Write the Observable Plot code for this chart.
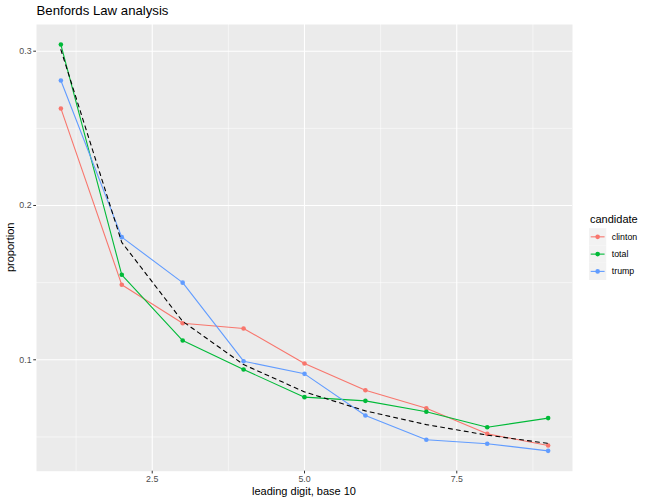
<!DOCTYPE html>
<html>
<head>
<meta charset="utf-8">
<script src="https://cdn.jsdelivr.net/npm/d3@7"></script>
<script src="https://cdn.jsdelivr.net/npm/@observablehq/plot@0.6"></script>
<style>
  html, body { margin: 0; padding: 0; background: white; }
  #chart { width: 648px; height: 504px; }
</style>
</head>
<body>
<div id="chart"></div>
<script>
const digits = [1, 2, 3, 4, 5, 6, 7, 8, 9];
const candidates = ["clinton", "total", "trump"];
const candidateColors = ["#F8766D", "#00BA38", "#619CFF"];
const clinton = [0.2629, 0.1486, 0.1237, 0.1203, 0.0976, 0.0803, 0.0686, 0.0520, 0.0445];
const total   = [0.3043, 0.1551, 0.1125, 0.0937, 0.0758, 0.0734, 0.0663, 0.0563, 0.0622];
const trump   = [0.2810, 0.1795, 0.1500, 0.0991, 0.0909, 0.0639, 0.0482, 0.0456, 0.0410];
const benford = [0.3010, 0.1761, 0.1249, 0.0969, 0.0792, 0.0669, 0.0580, 0.0512, 0.0458];
const xTicks = [2.5, 5.0, 7.5];
const xMinorTicks = [1.25, 3.75, 6.25, 8.75];
const yTicks = [0.1, 0.2, 0.3];
const yMinorTicks = [0.05, 0.15, 0.25];

const series = {clinton, total, trump};
const long = candidates.flatMap(c => digits.map((d, i) => ({candidate: c, digit: d, proportion: series[c][i]})));
const benfordData = digits.map((d, i) => ({digit: d, proportion: benford[i]}));

const W = 648, H = 504;
const mL = 36, mT = 24, mR = 76, mB = 33.3;
const font = "'Liberation Sans', Arial, Helvetica, sans-serif";

const chart = Plot.plot({
  width: W, height: H,
  marginLeft: mL, marginTop: mT, marginRight: mR, marginBottom: mB,
  style: {background: "white", fontFamily: font, overflow: "visible"},
  x: {domain: [0.6, 9.4]},
  y: {domain: [0.0278, 0.3173]},
  color: {domain: candidates, range: candidateColors},
  marks: [
    Plot.frame({fill: "#EBEBEB", stroke: null}),
    Plot.gridX(xMinorTicks, {stroke: "white", strokeOpacity: 1, strokeWidth: 0.55}),
    Plot.gridY(yMinorTicks, {stroke: "white", strokeOpacity: 1, strokeWidth: 0.55}),
    Plot.gridX(xTicks, {stroke: "white", strokeOpacity: 1, strokeWidth: 1.1}),
    Plot.gridY(yTicks, {stroke: "white", strokeOpacity: 1, strokeWidth: 1.1}),
    Plot.line(long, {x: "digit", y: "proportion", z: "candidate", stroke: "candidate", strokeWidth: 1.1}),
    Plot.dot(long, {x: "digit", y: "proportion", fill: "candidate", r: 2.3, stroke: null}),
    Plot.line(benfordData, {x: "digit", y: "proportion", stroke: "black", strokeWidth: 1.1, strokeDasharray: "4,4"}),
    Plot.axisX(xTicks, {tickSize: 2.75, tickPadding: 2.2, fontSize: 8.8, stroke: "#333333", fill: "#4D4D4D", label: null, tickFormat: d3.format(".1f")}),
    Plot.axisY(yTicks, {tickSize: 2.75, tickPadding: 2.2, fontSize: 8.8, stroke: "#333333", fill: "#4D4D4D", label: null, tickFormat: d3.format(".1f")})
  ]
});

const svg = d3.select(chart);
// title
svg.append("text")
  .attr("x", 36.5).attr("y", 14.5)
  .attr("text-anchor", "start")
  .attr("font-family", font).attr("font-size", 13.2).attr("fill", "black")
  .text("Benfords Law analysis");
// axis titles
svg.append("text")
  .attr("x", mL + (W - mL - mR) / 2).attr("y", 494.5)
  .attr("text-anchor", "middle")
  .attr("font-family", font).attr("font-size", 11).attr("fill", "black")
  .text("leading digit, base 10");
svg.append("text")
  .attr("transform", `translate(13.5,${mT + (H - mT - mB) / 2}) rotate(-90)`)
  .attr("text-anchor", "middle")
  .attr("font-family", font).attr("font-size", 11).attr("fill", "black")
  .text("proportion");

// legend
const lg = svg.append("g").attr("transform", "translate(589,0)");
lg.append("text")
  .attr("x", 1).attr("y", 223)
  .attr("text-anchor", "start")
  .attr("font-family", font).attr("font-size", 11).attr("fill", "black")
  .text("candidate");
const keyH = 17.28, keyTop = 228.2, keyW = 17.28;
candidates.forEach((c, i) => {
  const y0 = keyTop + i * keyH;
  lg.append("rect").attr("x", 0).attr("y", y0).attr("width", keyW).attr("height", keyH).attr("fill", "#F2F2F2");
  lg.append("line").attr("x1", 1.7).attr("x2", keyW - 1.7).attr("y1", y0 + keyH / 2).attr("y2", y0 + keyH / 2)
    .attr("stroke", candidateColors[i]).attr("stroke-width", 1.1);
  lg.append("circle").attr("cx", keyW / 2).attr("cy", y0 + keyH / 2).attr("r", 2.3).attr("fill", candidateColors[i]);
  lg.append("text")
    .attr("x", keyW + 5.5).attr("y", y0 + keyH / 2).attr("dy", "0.35em")
    .attr("text-anchor", "start")
    .attr("font-family", font).attr("font-size", 8.8).attr("fill", "black")
    .text(c);
});

document.getElementById("chart").appendChild(chart);
</script>
</body>
</html>
